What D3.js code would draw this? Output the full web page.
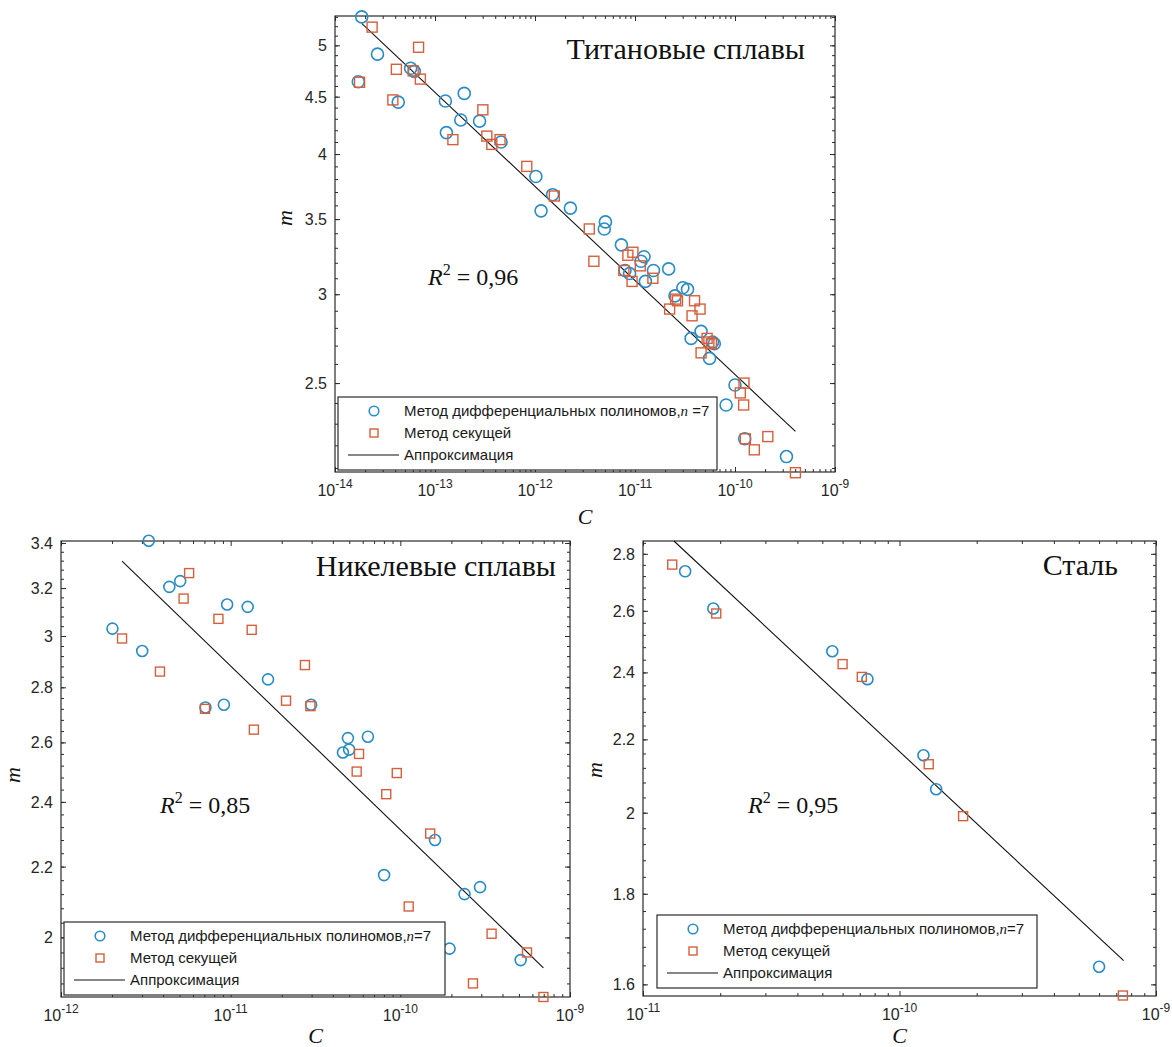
<!DOCTYPE html>
<html>
<head>
<meta charset="utf-8">
<script src="https://cdn.jsdelivr.net/npm/d3@7"></script>
<style>
  body { margin: 0; background: #fff; }
  svg { display: block; }
</style>
</head>
<body>
<svg id="chart" width="1172" height="1047"></svg>
<script>
// ---- Титановые сплавы: [C, m] ----
const tiPoly = [
  [1.85e-14, 5.30], [2.66e-14, 4.91], [1.71e-14, 4.64], [5.71e-14, 4.77], [6.21e-14, 4.74],
  [4.29e-14, 4.45], [1.27e-13, 4.46], [1.96e-13, 4.53], [1.81e-13, 4.29], [2.79e-13, 4.28],
  [1.30e-13, 4.18], [4.58e-13, 4.10], [1.02e-12, 3.82], [1.50e-12, 3.68], [1.15e-12, 3.56],
  [2.26e-12, 3.58], [5.06e-12, 3.48], [4.93e-12, 3.43], [7.31e-12, 3.32], [1.23e-11, 3.24],
  [1.15e-11, 3.21], [7.94e-12, 3.15], [8.83e-12, 3.13], [1.53e-11, 3.15], [1.27e-11, 3.08],
  [2.17e-11, 3.16], [3.01e-11, 3.04], [3.35e-11, 3.03], [2.51e-11, 2.99], [4.58e-11, 2.78],
  [3.64e-11, 2.74], [5.96e-11, 2.72], [6.21e-11, 2.71], [5.57e-11, 2.63], [1.00e-10, 2.49],
  [8.15e-11, 2.39], [1.25e-10, 2.23], [3.27e-10, 2.15]
];
const tiSecant = [
  [2.35e-14, 5.19], [6.85e-14, 4.98], [1.76e-14, 4.635], [4.11e-14, 4.76], [6.05e-14, 4.745],
  [7.14e-14, 4.665], [3.79e-14, 4.47], [3.01e-13, 4.38], [1.51e-13, 4.12], [3.30e-13, 4.15],
  [3.70e-13, 4.08], [4.47e-13, 4.12], [8.28e-13, 3.90], [1.56e-12, 3.67], [3.49e-12, 3.43],
  [3.88e-12, 3.21], [7.74e-12, 3.15], [8.49e-12, 3.25], [9.53e-12, 3.27], [1.13e-11, 3.18],
  [9.35e-12, 3.08], [1.51e-11, 3.10], [2.22e-11, 2.91], [2.55e-11, 2.97], [2.66e-11, 2.96],
  [3.94e-11, 2.96], [4.47e-11, 2.91], [3.72e-11, 2.87], [5.26e-11, 2.74], [5.48e-11, 2.72],
  [4.58e-11, 2.66], [5.81e-11, 2.71], [1.23e-10, 2.50], [1.13e-10, 2.45], [1.22e-10, 2.39],
  [1.27e-10, 2.23], [2.13e-10, 2.24], [1.56e-10, 2.18], [4.02e-10, 2.08]
];
const tiFit = [[1.85e-14, 5.23], [4.02e-10, 2.264]];
const tiYTicks = [2.5, 3, 3.5, 4, 4.5, 5];

// ---- Никелевые сплавы ----
const niPoly = [
  [3.29e-12, 3.41], [4.35e-12, 3.205], [5.04e-12, 3.23], [9.53e-12, 3.13], [1.26e-11, 3.12],
  [2.01e-12, 3.03], [3.01e-12, 2.94], [1.66e-11, 2.83], [7.10e-12, 2.725], [9.12e-12, 2.735],
  [2.98e-11, 2.735], [4.59e-11, 2.565], [4.91e-11, 2.615], [4.99e-11, 2.575], [6.44e-11, 2.62],
  [1.60e-10, 2.28], [8.02e-11, 2.175], [2.39e-10, 2.12], [2.95e-10, 2.14], [1.95e-10, 1.97],
  [5.12e-10, 1.94]
];
const niSecant = [
  [5.69e-12, 3.265], [5.28e-12, 3.155], [2.29e-12, 2.99], [8.47e-12, 3.07], [1.33e-11, 3.025],
  [3.83e-12, 2.86], [2.74e-11, 2.885], [7.06e-12, 2.72], [2.12e-11, 2.75], [2.95e-11, 2.73],
  [1.37e-11, 2.645], [5.71e-11, 2.56], [5.53e-11, 2.50], [9.53e-11, 2.495], [8.26e-11, 2.425],
  [1.50e-10, 2.30], [1.12e-10, 2.085], [3.45e-10, 2.01], [5.58e-10, 1.96], [2.68e-10, 1.88],
  [6.97e-10, 1.846]
];
const niFit = [[2.29e-12, 3.318], [6.97e-10, 1.92]];
const niYTicks = [2, 2.2, 2.4, 2.6, 2.8, 3, 3.2, 3.4];

// ---- Сталь ----
const stPoly = [
  [1.46e-11, 2.737], [1.88e-11, 2.608], [5.47e-11, 2.467], [7.50e-11, 2.379],
  [1.24e-10, 2.155], [1.39e-10, 2.062], [6.00e-10, 1.637]
];
const stSecant = [
  [1.30e-11, 2.761], [1.93e-11, 2.591], [6.00e-11, 2.426], [7.13e-11, 2.386],
  [1.30e-10, 2.13], [1.77e-10, 1.991], [7.43e-10, 1.577]
];
const stFit = [[1.32e-11, 2.847], [7.48e-10, 1.65]];
const stYTicks = [1.6, 1.8, 2, 2.2, 2.4, 2.6, 2.8];

const legendLabels = ["Метод дифференциальных полиномов,", "Метод секущей", "Аппроксимация"];

const blue = "#2a8cc4", red = "#d65f3b", axisColor = "#2b2b2b";
const sans = "'Liberation Sans', Arial, sans-serif";
const serif = "'Liberation Serif', 'Times New Roman', serif";

const svg = d3.select("#chart");

const panels = [
  { title: "Титановые сплавы", r2: "0,96", poly: tiPoly, sec: tiSecant, fit: tiFit,
    xDomain: [1e-14, 1e-9], yDomain: [2.083, 5.31], yTicks: tiYTicks, yStep: 0.1,
    box: { left: 335, right: 835, top: 16, bottom: 472 },
    titleAt: [805, 59], r2At: [428, 285], mAt: [292, 218], cY: 524,
    legend: { x: 338, y: 397, w: 379, h: 73 }, r: 6, sq: 10, nTail: " =7" },
  { title: "Никелевые сплавы", r2: "0,85", poly: niPoly, sec: niSecant, fit: niFit,
    xDomain: [1e-12, 1e-9], yDomain: [1.846, 3.409], yTicks: niYTicks, yStep: 0.04,
    box: { left: 61, right: 570, top: 541, bottom: 997 },
    titleAt: [556, 576], r2At: [160, 813], mAt: [20, 775], cY: 1043,
    legend: { x: 64, y: 922, w: 381, h: 73 }, r: 5.5, sq: 9, nTail: "=7" },
  { title: "Сталь", r2: "0,95", poly: stPoly, sec: stSecant, fit: stFit,
    xDomain: [1e-11, 1e-9], yDomain: [1.576, 2.847], yTicks: stYTicks, yStep: 0.04,
    box: { left: 643, right: 1156, top: 541, bottom: 996 },
    titleAt: [1118, 575], r2At: [748, 813], mAt: [602, 770], cY: 1043,
    legend: { x: 657, y: 915, w: 380, h: 73 }, r: 5.5, sq: 9, nTail: "=7" }
];

function drawCircle(g, cx, cy, r) {
  g.append("circle").attr("cx", cx).attr("cy", cy).attr("r", r)
    .attr("fill", "none").attr("stroke", blue).attr("stroke-width", 1.6);
}
function drawSquare(g, cx, cy, s) {
  g.append("rect").attr("x", cx - s / 2).attr("y", cy - s / 2).attr("width", s).attr("height", s)
    .attr("fill", "none").attr("stroke", red).attr("stroke-width", 1.4);
}

function drawPanel(p) {
  const b = p.box;
  const x = d3.scaleLog().domain(p.xDomain).range([b.left, b.right]);
  const y = d3.scaleLog().domain(p.yDomain).range([b.bottom, b.top]);
  const g = svg.append("g");

  // tick values
  const e0 = Math.round(Math.log10(p.xDomain[0])), e1 = Math.round(Math.log10(p.xDomain[1]));
  const xMajor = d3.range(e0, e1 + 1).map(e => Math.pow(10, e));
  const xMinor = [];
  d3.range(e0, e1).forEach(e => { for (let k = 2; k < 10; k++) xMinor.push(k * Math.pow(10, e)); });
  const n0 = Math.ceil(p.yDomain[0] / p.yStep - 1e-9), n1 = Math.floor(p.yDomain[1] / p.yStep + 1e-9);
  const yMinor = d3.range(n0, n1 + 1).map(i => +(i * p.yStep).toFixed(4));

  const axis = (fn, scale, vals, len, tr) => {
    const a = g.append("g").attr("transform", tr)
      .call(fn(scale).tickValues(vals).tickSize(-len).tickFormat(""));
    a.select(".domain").remove();
    a.selectAll("line").attr("stroke", axisColor).attr("stroke-width", 1);
  };
  axis(d3.axisBottom, x, xMinor, 3, `translate(0,${b.bottom})`);
  axis(d3.axisBottom, x, xMajor, 5, `translate(0,${b.bottom})`);
  axis(d3.axisTop, x, xMinor, 3, `translate(0,${b.top})`);
  axis(d3.axisTop, x, xMajor, 5, `translate(0,${b.top})`);
  axis(d3.axisLeft, y, yMinor, 3, `translate(${b.left},0)`);
  axis(d3.axisLeft, y, p.yTicks, 5, `translate(${b.left},0)`);
  axis(d3.axisRight, y, yMinor, 3, `translate(${b.right},0)`);
  axis(d3.axisRight, y, p.yTicks, 5, `translate(${b.right},0)`);

  g.append("rect").attr("x", b.left).attr("y", b.top)
    .attr("width", b.right - b.left).attr("height", b.bottom - b.top)
    .attr("fill", "none").attr("stroke", axisColor).attr("stroke-width", 1.2);

  // tick labels
  xMajor.forEach((v, i) => {
    const t = g.append("text").attr("x", x(v)).attr("y", b.bottom + 24)
      .attr("text-anchor", "middle").attr("font-family", sans).attr("font-size", 16)
      .attr("fill", "#262626");
    t.append("tspan").text("10");
    t.append("tspan").attr("dy", -8).attr("font-size", 12).text(String(e0 + i));
  });
  p.yTicks.forEach(v => {
    g.append("text").attr("x", b.left - 8).attr("y", y(v) + 6)
      .attr("text-anchor", "end").attr("font-family", sans).attr("font-size", 16)
      .attr("fill", "#262626").text(String(v));
  });

  // axis labels
  g.append("text").attr("x", (b.left + b.right) / 2).attr("y", p.cY)
    .attr("text-anchor", "middle").attr("font-family", serif).attr("font-style", "italic")
    .attr("font-size", 22).attr("fill", "#111").text("C");
  g.append("text").attr("transform", `translate(${p.mAt[0]},${p.mAt[1]}) rotate(-90)`)
    .attr("text-anchor", "middle").attr("font-family", serif).attr("font-style", "italic")
    .attr("font-size", 22).attr("fill", "#111").text("m");

  // title
  g.append("text").attr("x", p.titleAt[0]).attr("y", p.titleAt[1]).attr("text-anchor", "end")
    .attr("font-family", serif).attr("font-size", 30).attr("fill", "#111").text(p.title);

  // R^2
  const r2 = g.append("text").attr("x", p.r2At[0]).attr("y", p.r2At[1])
    .attr("font-family", serif).attr("font-size", 24).attr("fill", "#111");
  r2.append("tspan").attr("font-style", "italic").text("R");
  r2.append("tspan").attr("dy", -10).attr("font-size", 16).text("2");
  r2.append("tspan").attr("dy", 10).text(" = " + p.r2);

  // fit line
  g.append("path").datum(p.fit)
    .attr("d", d3.line().x(d => x(d[0])).y(d => y(d[1])))
    .attr("fill", "none").attr("stroke", "#111").attr("stroke-width", 1.1);

  // markers
  p.poly.forEach(d => drawCircle(g, x(d[0]), y(d[1]), p.r));
  p.sec.forEach(d => drawSquare(g, x(d[0]), y(d[1]), p.sq));

  // legend
  const L = p.legend;
  const lg = g.append("g").attr("transform", `translate(${L.x},${L.y})`);
  lg.append("rect").attr("width", L.w).attr("height", L.h)
    .attr("fill", "#fff").attr("stroke", axisColor).attr("stroke-width", 1.2);
  const rows = [14, 36, 58];
  drawCircle(lg, 36, rows[0], 4.8);
  drawSquare(lg, 36, rows[1], 8);
  lg.append("line").attr("x1", 10).attr("x2", 61).attr("y1", rows[2]).attr("y2", rows[2])
    .attr("stroke", "#111").attr("stroke-width", 1.2);
  legendLabels.forEach((s, i) => {
    const t = lg.append("text").attr("x", 66).attr("y", rows[i] + 5)
      .attr("font-family", sans).attr("font-size", 15).attr("fill", "#1a1a1a");
    t.append("tspan").text(s);
    if (i === 0) {
      t.append("tspan").attr("font-family", serif).attr("font-style", "italic").text("n");
      t.append("tspan").text(p.nTail);
    }
  });
}

panels.forEach(drawPanel);
</script>
</body>
</html>
